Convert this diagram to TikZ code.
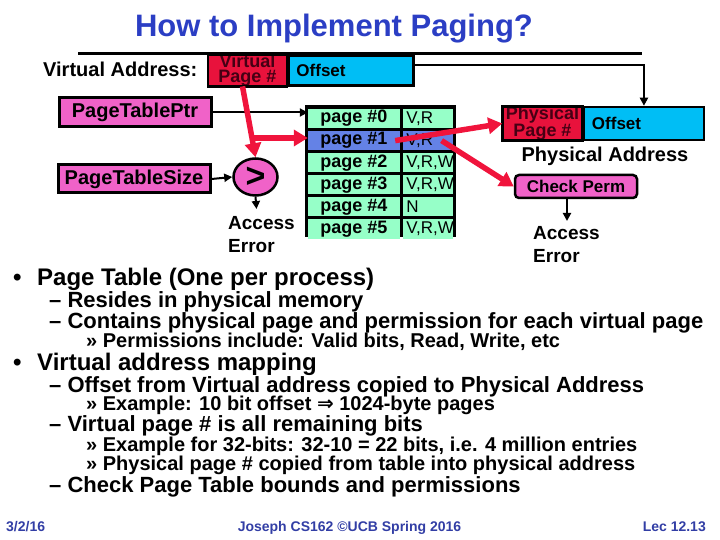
\documentclass[tikz,border=0pt]{standalone}
\usepackage{fontspec}
\setmainfont{Liberation Sans}
\newfontfamily\arrowfont{DejaVu Sans}
\usetikzlibrary{arrows.meta,positioning,shapes.geometric}
\newcommand{\pxfont}[1]{\fontsize{#1}{#1}\selectfont\bfseries}
\definecolor{titleblue}{RGB}{43,62,196}
\definecolor{footblue}{RGB}{50,62,165}
\definecolor{vpnred}{RGB}{232,18,60}
\definecolor{vpntext}{RGB}{70,0,20}
\definecolor{offcyan}{RGB}{0,190,245}
\definecolor{regpink}{RGB}{240,98,200}
\definecolor{cellmint}{RGB}{150,255,200}
\definecolor{cellblue}{RGB}{100,130,230}
\definecolor{arrowred}{RGB}{240,20,60}
\tikzset{
    pagefield/.style={rectangle,fill=vpnred,minimum width=79,minimum height=30,inner sep=0,align=center,font=\fontsize{18}{14.5}\selectfont\bfseries,text=vpntext},
    fieldedge/.style={line width=2.5pt},
    offfield/.style={rectangle,draw,line width=2.5pt,fill=offcyan,minimum height=30,inner xsep=8,inner ysep=0,align=left,font=\pxfont{17}},
    regbox/.style={rectangle,draw,line width=3pt,fill=regpink,minimum width=152,minimum height=29,inner sep=0,font=\pxfont{20}},
    cmpnode/.style={ellipse,draw,line width=2.5pt,fill=regpink,minimum width=44,minimum height=37,inner sep=0,font=\pxfont{34}},
    checkbox/.style={rectangle,draw,rounded corners=4pt,line width=2.5pt,fill=regpink,minimum width=122,minimum height=23,inner sep=0,font=\pxfont{17}},
    tableframe/.style={rectangle,fill=black,minimum width=151,minimum height=132,inner sep=0},
    pagecell/.style={rectangle,fill=cellmint,minimum width=92,minimum height=19,inner sep=0,font=\pxfont{18}},
    permcell/.style={rectangle,fill=cellmint,minimum height=19,inner xsep=3,inner ysep=0,text width=44,align=left,font=\fontsize{17}{17}\selectfont},
    errtext/.style={anchor=north west,align=left,inner sep=0,font=\fontsize{19}{23}\selectfont\bfseries},
    plainlabel/.style={inner sep=0,font=\pxfont{20}},
    blackline/.style={-{Triangle[length=8pt,width=8pt]},line width=2pt},
    redline/.style={-{Triangle[length=14pt,width=16pt]},line width=5.5pt,draw=arrowred},
    lvlone/.style={anchor=base west,inner sep=0,font=\pxfont{24}},
    lvltwo/.style={anchor=base west,inner sep=0,font=\pxfont{22}},
    lvlthree/.style={anchor=base west,inner sep=0,font=\pxfont{20}},
    footline/.style={inner sep=0,text=footblue,font=\pxfont{14}}
}
\begin{document}
\begin{tikzpicture}[x=1pt,y=-1pt]
    \useasboundingbox (0,0) rectangle (720,540);
    \node[anchor=base,inner sep=0,text=titleblue,font=\pxfont{31}] (title) at (334,37) {How to Implement Paging?};
    \draw[line width=2.5pt] (78,53.5) -- (642,53.5);
    % virtual address
    \node[plainlabel,anchor=base west] (valabel) at (43,77) {Virtual Address:};
    \begin{scope}
        \clip (208,55.5) rectangle (287,85.5);
        \node[pagefield] (vpn) at (247.5,70.5) {Virtual\\Page \#};
    \end{scope}
    \draw[fieldedge] (vpn.south west) rectangle (vpn.north east);
    \node[offfield,anchor=west,text width=109] (voff) at (vpn.east) {Offset};
    % registers and bound check
    \node[regbox] (ptptr) at (135,112.5) {PageTablePtr};
    \node[regbox,minimum height=28] (ptsize) at (134,179) {PageTableSize};
    \node[cmpnode] (cmp) at (255.5,177) {>};
    \coordinate (cmperr) at (256.5,209);
    \node[errtext] (err1) at (228,216.4) {Access\\Error};
    % page table
    \node[tableframe] (ptable) at (380.5,171) {};
    \node[pagecell] (p0) at (354,118.5) {page \#0};
    \node[pagecell,fill=cellblue,below=2.7pt of p0] (p1) {page \#1};
    \node[pagecell,below=2.7pt of p1] (p2) {page \#2};
    \node[pagecell,below=2.7pt of p2] (p3) {page \#3};
    \node[pagecell,below=2.7pt of p3] (p4) {page \#4};
    \node[pagecell,below=2.7pt of p4] (p5) {page \#5};
    \node[permcell,right=3pt of p0] (q0) {V,R};
    \node[permcell,fill=cellblue,right=3pt of p1] (q1) {V,R};
    \node[permcell,right=3pt of p2] (q2) {V,R,W};
    \node[permcell,right=3pt of p3] (q3) {V,R,W};
    \node[permcell,right=3pt of p4] (q4) {N};
    \node[permcell,right=3pt of p5] (q5) {V,R,W};
    % physical address
    \begin{scope}
        \clip (502.5,107) rectangle (582.5,140);
        \node[pagefield,minimum width=80,minimum height=33] (ppn) at (542.5,123.5) {Physical\\Page \#};
    \end{scope}
    \draw[fieldedge] (ppn.south west) rectangle (ppn.north east);
    \node[offfield,anchor=west,minimum height=33,text width=104] (poff) at (ppn.east) {Offset};
    \node[plainlabel,anchor=base] (palabel) at (605,162) {Physical Address};
    \node[checkbox] (check) at (576,186.5) {Check Perm};
    \coordinate (permerr) at (567,221);
    \node[errtext] (err2) at (533,226.4) {Access\\Error};
    % connectors
    \coordinate (vpnsplit) at (252,138);
    \draw[blackline] (ptptr.east) -- (ptptr.east -| p0.west);
    \draw[blackline] (ptsize.east) -- (cmp.west);
    \draw[blackline] (cmp.south) -- (cmperr);
    \draw[blackline] ([yshift=5.5pt]voff.east) -| (poff.north);
    \draw[blackline] ([xshift=-9pt]check.south) -- (permerr);
    \draw[redline] ([xshift=-5pt]vpn.south) -- (vpnsplit) -- (cmp.north);
    \draw[redline] (vpnsplit) -- (vpnsplit -| p1.west);
    \draw[redline] ([xshift=-5pt]p1.east) -- (ppn.west);
    \draw[redline] ([xshift=-12pt]q1.east) -- (check.west);
    % text
    \node[lvlone] (dot1) at (13,285) {•};
    \node[lvlone] (l1) at (37,285) {Page Table (One per process)};
    \node[lvltwo] (l2) at (49,307) {– Resides in physical memory};
    \node[lvltwo] (l3) at (49,328) {– Contains physical page and permission for each virtual page};
    \node[lvlthree] (l4) at (86,347) {» Permissions include: Valid bits, Read, Write, etc};
    \node[lvlone] (dot2) at (13,370) {•};
    \node[lvlone] (l5) at (37,370) {Virtual address mapping};
    \node[lvltwo] (l6) at (49,392) {– Offset from Virtual address copied to Physical Address};
    \node[lvlthree] (l7) at (86,410.5) {» Example: 10 bit offset {\arrowfont\bfseries ⇒} 1024-byte pages};
    \node[lvltwo] (l8) at (49,431) {– Virtual page \# is all remaining bits};
    \node[lvlthree] (l9) at (86,451.5) {» Example for 32-bits: 32-10 = 22 bits, i.e. 4 million entries};
    \node[lvlthree] (l10) at (86,470.5) {» Physical page \# copied from table into physical address};
    \node[lvltwo] (l11) at (49,492) {– Check Page Table bounds and permissions};
    % footer
    \node[footline,anchor=base west] (date) at (6,531) {3/2/16};
    \node[footline,anchor=base] (course) at (349.5,531) {Joseph CS162 ©UCB Spring 2016};
    \node[footline,anchor=base east] (lec) at (706,531) {Lec 12.13};
\end{tikzpicture}
\end{document}
